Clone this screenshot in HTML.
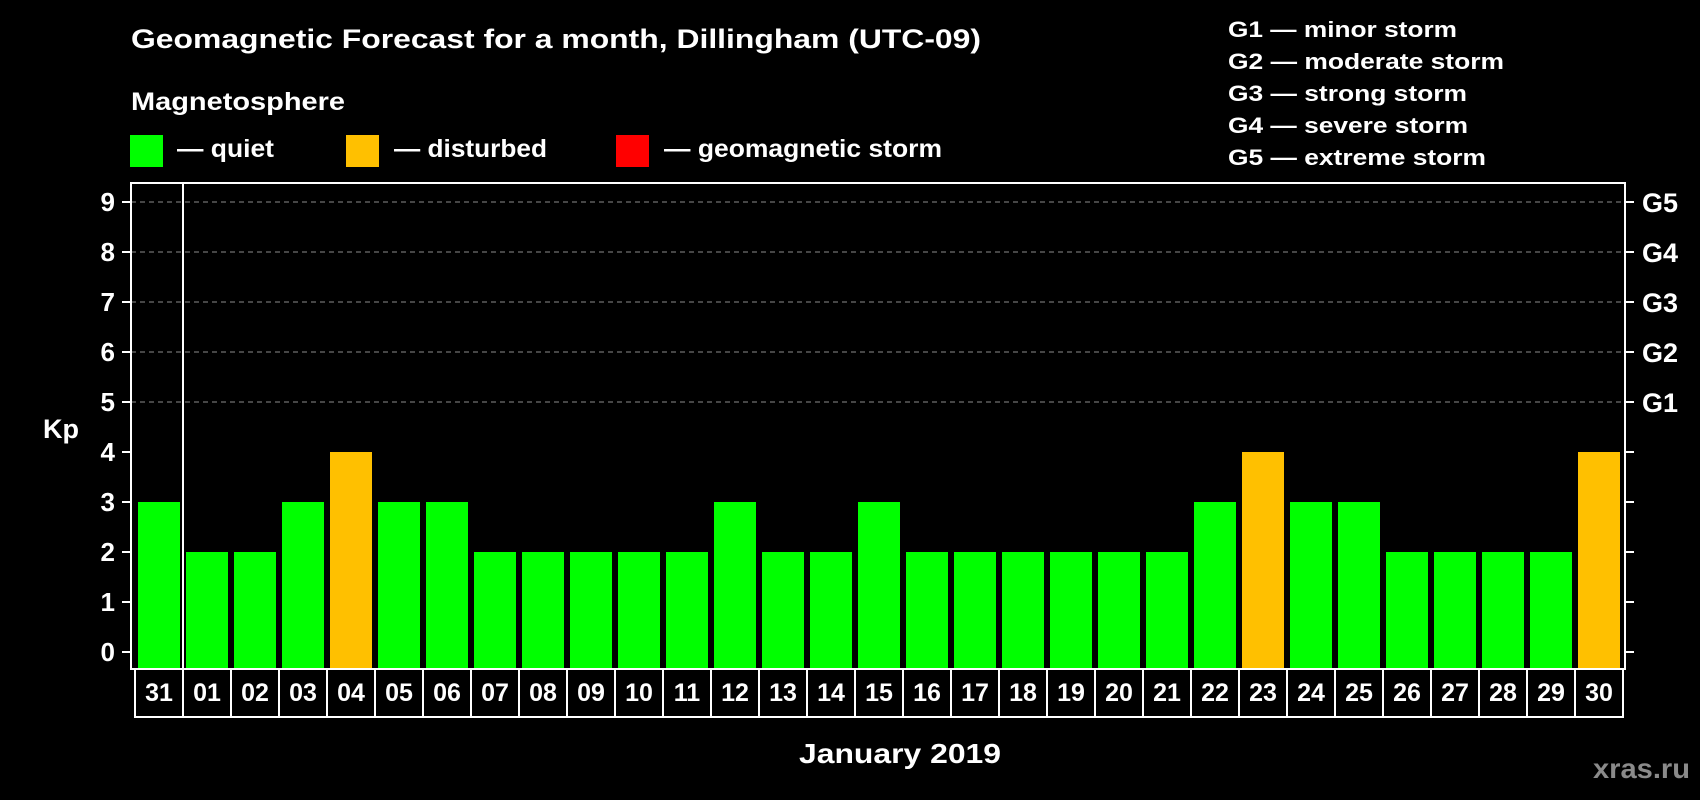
<!DOCTYPE html>
<html><head><meta charset="utf-8"><style>
html,body{margin:0;padding:0;background:#000;width:1700px;height:800px;overflow:hidden}
svg{display:block;font-family:"Liberation Sans",Arial,sans-serif;font-weight:bold}
</style></head><body>
<svg id="chart" width="1700" height="800" xmlns="http://www.w3.org/2000/svg">
<rect width="1700" height="800" fill="#000"/>
<text x="131" y="48" fill="#fff" font-size="27" textLength="850" lengthAdjust="spacingAndGlyphs">Geomagnetic Forecast for a month, Dillingham (UTC-09)</text>
<text x="131" y="110" fill="#fff" font-size="25" textLength="214" lengthAdjust="spacingAndGlyphs">Magnetosphere</text>
<g><rect x="130" y="135" width="33" height="32" fill="#00ff00"/><text x="177" y="157" fill="#fff" font-size="25" textLength="97" lengthAdjust="spacingAndGlyphs">— quiet</text></g>
<g><rect x="346" y="135" width="33" height="32" fill="#ffc000"/><text x="394" y="157" fill="#fff" font-size="25" textLength="153" lengthAdjust="spacingAndGlyphs">— disturbed</text></g>
<g><rect x="616" y="135" width="33" height="32" fill="#ff0000"/><text x="664" y="157" fill="#fff" font-size="25" textLength="278" lengthAdjust="spacingAndGlyphs">— geomagnetic storm</text></g>
<g fill="#fff" font-size="22">
<text x="1228" y="37" textLength="229" lengthAdjust="spacingAndGlyphs">G1 — minor storm</text>
<text x="1228" y="69" textLength="276" lengthAdjust="spacingAndGlyphs">G2 — moderate storm</text>
<text x="1228" y="101" textLength="239" lengthAdjust="spacingAndGlyphs">G3 — strong storm</text>
<text x="1228" y="133" textLength="240" lengthAdjust="spacingAndGlyphs">G4 — severe storm</text>
<text x="1228" y="165" textLength="258" lengthAdjust="spacingAndGlyphs">G5 — extreme storm</text>
</g>
<text x="43" y="438" fill="#fff" font-size="27">Kp</text>
<text x="799" y="763" fill="#fff" font-size="28" textLength="202" lengthAdjust="spacingAndGlyphs">January 2019</text>
<text x="1593" y="778" fill="#8a8a8a" font-size="28" textLength="97" lengthAdjust="spacingAndGlyphs">xras.ru</text>
<g id="plot"></g>
</svg>
<script>
const days = ["31","01","02","03","04","05","06","07","08","09","10","11","12","13","14","15","16","17","18","19","20","21","22","23","24","25","26","27","28","29","30"];
const kpValues = [3,2,2,3,4,3,3,2,2,2,2,2,3,2,2,3,2,2,2,2,2,2,3,4,3,3,2,2,2,2,4];
const yTicks = [0,1,2,3,4,5,6,7,8,9];
const gLabels = ["G1","G2","G3","G4","G5"];
const gLevels = [5,6,7,8,9];

const NS = "http://www.w3.org/2000/svg";
const plotG = document.getElementById("plot");
const plotLeft = 131, plotRight = 1625, plotTop = 183, plotBottom = 669;
const yZero = 652, yUnit = 50;
const slot0 = 135, slotW = 48;
function yScale(v){ return yZero - v*yUnit; }
function xSlot(i){ return slot0 + i*slotW; }
function mk(tag, attrs){ const e = document.createElementNS(NS, tag); for (const k in attrs) e.setAttribute(k, attrs[k]); plotG.appendChild(e); return e; }

gLevels.forEach((lv) => {
  const g = mk("line", {x1:plotLeft, x2:plotRight, y1:yScale(lv), y2:yScale(lv), stroke:"#8c8c8c", "stroke-width":1, "stroke-dasharray":"5,4"});
  
  
});
kpValues.forEach((v, i) => {
  const color = v >= 5 ? "#ff0000" : (v >= 4 ? "#ffc000" : "#00ff00");
  const b = mk("rect", {x:xSlot(i)+3, y:yScale(v), width:42, height:plotBottom - yScale(v), fill:color});
  
  
});
const fr = mk("rect", {x:plotLeft, y:plotTop, width:plotRight-plotLeft, height:plotBottom-plotTop, fill:"none", stroke:"#fff", "stroke-width":2});


const dv = mk("line", {x1:xSlot(1), x2:xSlot(1), y1:plotTop, y2:plotBottom, stroke:"#fff", "stroke-width":2});


yTicks.forEach(t => {
  const y = yScale(t);
  const tl = mk("line", {x1:122, x2:plotLeft, y1:y, y2:y, stroke:"#fff", "stroke-width":2});
  
  
  const tr = mk("line", {x1:plotRight, x2:1634, y1:y, y2:y, stroke:"#fff", "stroke-width":2});
  
  
  const lb = mk("text", {x:115, y:y+9, fill:"#fff", "font-size":26, "text-anchor":"end"});
  lb.textContent = t;
  
  
});
gLabels.forEach((g, i) => {
  const lb = mk("text", {x:1642, y:yScale(gLevels[i])+10, fill:"#fff", "font-size":27});
  lb.textContent = g;
  
  
});
days.forEach((d, i) => {
  const r = mk("rect", {x:xSlot(i), y:plotBottom, width:slotW, height:717-plotBottom, fill:"none", stroke:"#fff", "stroke-width":2});
  
  
  const t = mk("text", {x:xSlot(i)+slotW/2, y:701, fill:"#fff", "font-size":25, "text-anchor":"middle"});
  t.textContent = d;
  
  
});
</script>
</body></html>
